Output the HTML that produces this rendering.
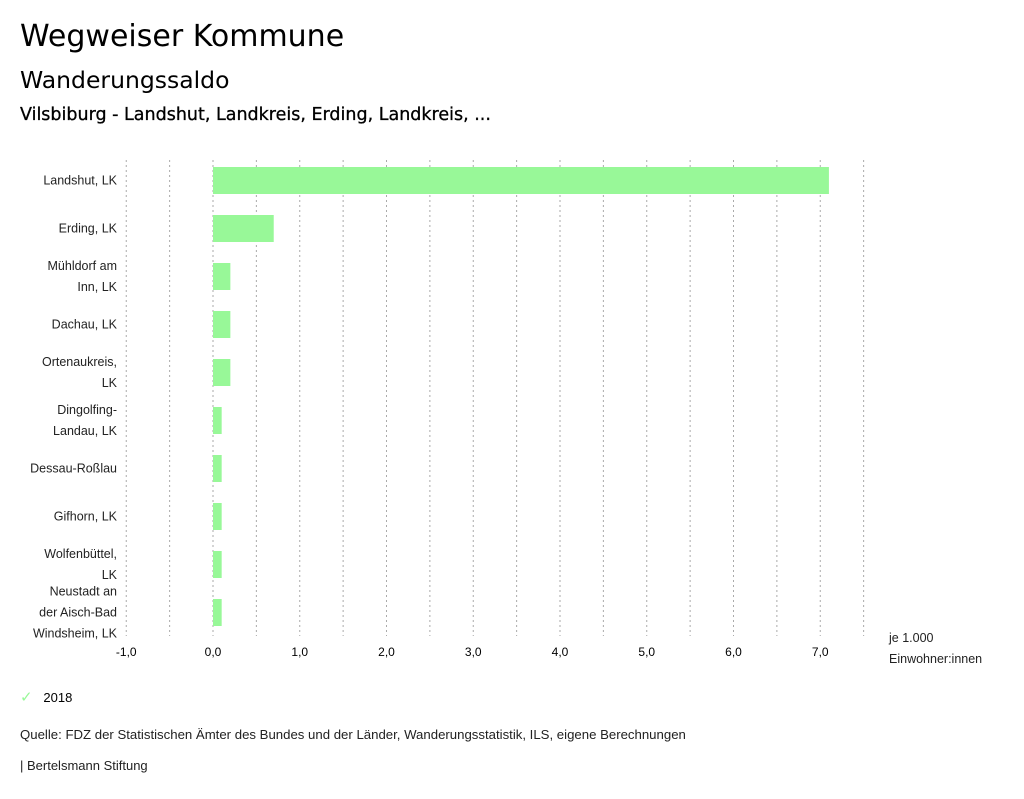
<!DOCTYPE html>
<html><head><meta charset="utf-8"><style>
body{margin:0;width:1024px;height:799px;background:#fff;font-family:"Liberation Sans",sans-serif;color:#000;overflow:hidden}
.t{position:absolute;white-space:nowrap}
.d{font-family:"DejaVu Sans","Liberation Sans",sans-serif}
</style></head><body>
<div class="t d" style="left:20px;top:19px;font-size:30px">Wegweiser Kommune</div>
<div class="t d" style="left:20px;top:66px;font-size:23.5px">Wanderungssaldo</div>
<div class="t d" style="left:20px;top:105px;font-size:17.5px;-webkit-text-stroke:0.3px #000">Vilsbiburg - Landshut, Landkreis, Erding, Landkreis, ...</div>
<svg id="c" width="1024" height="799" style="position:absolute;left:0;top:0"></svg>
<div class="t" style="left:20px;top:688px;font-size:13px"><span style="color:#98f898;font-size:15px">✓</span>&nbsp;&nbsp;&nbsp;2018</div>
<div class="t" style="left:20px;top:727px;font-size:13.2px;color:#222">Quelle: FDZ der Statistischen Ämter des Bundes und der Länder, Wanderungsstatistik, ILS, eigene Berechnungen</div>
<div class="t" style="left:20px;top:758px;font-size:13px;color:#222">| Bertelsmann Stiftung</div>
<script>
const categories=[["Landshut, LK"],["Erding, LK"],["Mühldorf am","Inn, LK"],["Dachau, LK"],["Ortenaukreis,","LK"],["Dingolfing-","Landau, LK"],["Dessau-Roßlau"],["Gifhorn, LK"],["Wolfenbüttel,","LK"],["Neustadt an","der Aisch-Bad","Windsheim, LK"]];
const values=[7.1,0.7,0.2,0.2,0.2,0.1,0.1,0.1,0.1,0.1];
const ticks=[-1,0,1,2,3,4,5,6,7];
const tickLabels=["-1,0","0,0","1,0","2,0","3,0","4,0","5,0","6,0","7,0"];
const svg=document.getElementById('c');
const NS='http://www.w3.org/2000/svg';
const x=v=>213+(v)*86.75;
const yc=i=>180.5+i*48;
function mk(t,a){const e=document.createElementNS(NS,t);for(const k in a)e.setAttribute(k,a[k]);svg.appendChild(e);return e;}
for(let v=-1;v<=7.5;v+=0.5){
 const g=mk('line',{x1:x(v),x2:x(v),y1:160,y2:636,stroke:'#aaa','stroke-dasharray':'2,3','stroke-width':1});
 
 
}
ticks.forEach((v,i)=>{
 const t=mk('text',{x:x(v),y:656,'font-size':12,'text-anchor':'middle','font-family':'Liberation Sans, sans-serif'});
 t.textContent=tickLabels[i];
 
 
});
values.forEach((v,i)=>{
 const r=mk('rect',{x:Math.min(x(0),x(v)),y:yc(i)-13.5,width:Math.abs(x(v)-x(0)),height:27,fill:'#98f898'});
 
 
 const lines=categories[i];
 lines.forEach((l,j)=>{
  const t=mk('text',{x:117,y:yc(i)+4+(j-(lines.length-1)/2)*21,'font-size':12.5,'text-anchor':'end','font-family':'Liberation Sans, sans-serif',fill:'#222'});
  t.textContent=l;
  
  
 });
});
[["je 1.000",642],["Einwohner:innen",663]].forEach(a=>{
 const t=mk('text',{x:889,y:a[1],'font-size':12.5,'font-family':'Liberation Sans, sans-serif',fill:'#222'});
 t.textContent=a[0];
 
 
});
</script>
</body></html>
